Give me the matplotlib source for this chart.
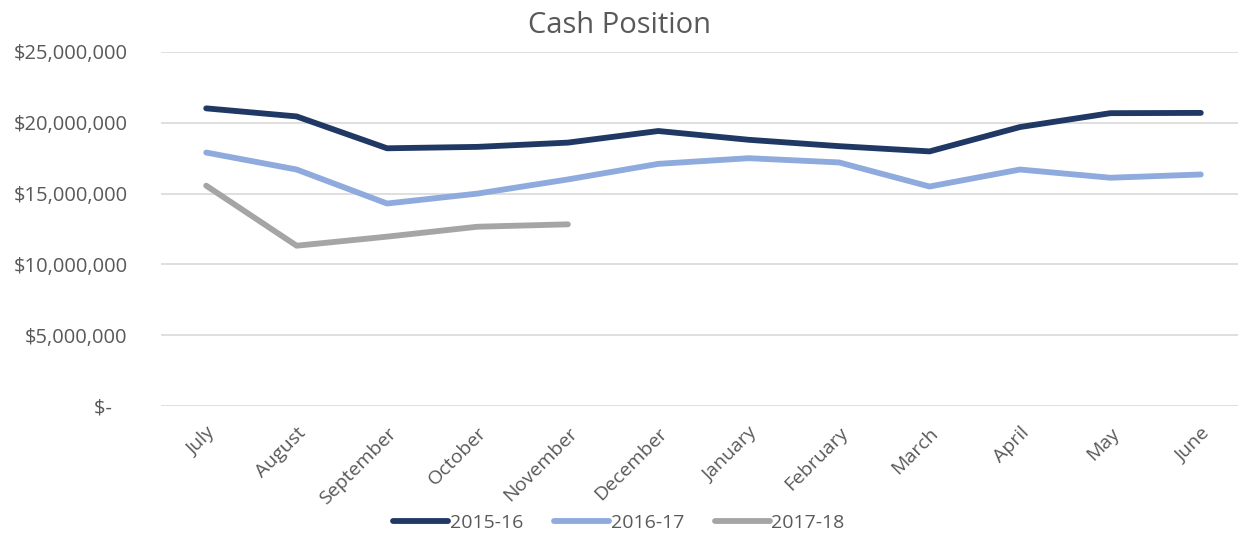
import matplotlib.pyplot as plt
from matplotlib.ticker import FuncFormatter

months = ["July", "August", "September", "October", "November", "December",
          "January", "February", "March", "April", "May", "June"]
fy_2015_16 = [21.02, 20.45, 18.2, 18.3, 18.6, 19.42, 18.8, 18.35, 17.98, 19.7, 20.68, 20.7]
fy_2016_17 = [17.9, 16.7, 14.3, 15.0, 16.0, 17.1, 17.5, 17.2, 15.5, 16.7, 16.12, 16.35]
fy_2017_18 = [15.56, 11.32, 11.96, 12.66, 12.83]

series = [("2015-16", fy_2015_16, "#203864"),
          ("2016-17", fy_2016_17, "#8FAADC"),
          ("2017-18", fy_2017_18, "#A5A5A5")]

plt.rcParams['font.family'] = ['Open Sans', 'DejaVu Sans']
text_color = "#595959"

fig = plt.figure(figsize=(12.38, 5.37), dpi=100)
ax = fig.add_axes([161 / 1238, 1 - 406 / 537, 1085 / 1238, 354 / 537])

for name, vals, col in series:
    ax.plot(range(len(vals)), [v * 1e6 for v in vals], color=col, lw=4.2,
            solid_capstyle='round', solid_joinstyle='round', label=name)

ax.set_xlim(-0.5, 11.5)
ax.set_ylim(0, 25e6)
ax.set_yticks([i * 5e6 for i in range(6)])


def money(v, pos):
    if v == 0:
        return "$-   "
    return "${:,.0f}".format(v)


ax.yaxis.set_major_formatter(FuncFormatter(money))
ax.set_xticks(range(12))
ax.set_xticklabels(months, rotation=45, ha='right', rotation_mode='anchor')
ax.tick_params(axis='x', length=0, pad=13, labelsize=14, labelcolor=text_color)
ax.tick_params(axis='y', length=0, pad=24, labelsize=14.5, labelcolor=text_color)
ax.grid(axis='y', color="#D9D9D9", lw=1.2)
ax.set_axisbelow(True)
for s in ax.spines.values():
    s.set_visible(False)

fig.suptitle("Cash Position", x=0.5, y=0.98, fontsize=21, color=text_color)
fig.legend(loc='center', bbox_to_anchor=(0.5, 0.027), ncol=3, frameon=False,
           fontsize=14, labelcolor=text_color, handlelength=2.8,
           handletextpad=0.1, columnspacing=1.6)

fig.savefig("out.png", dpi=100)
